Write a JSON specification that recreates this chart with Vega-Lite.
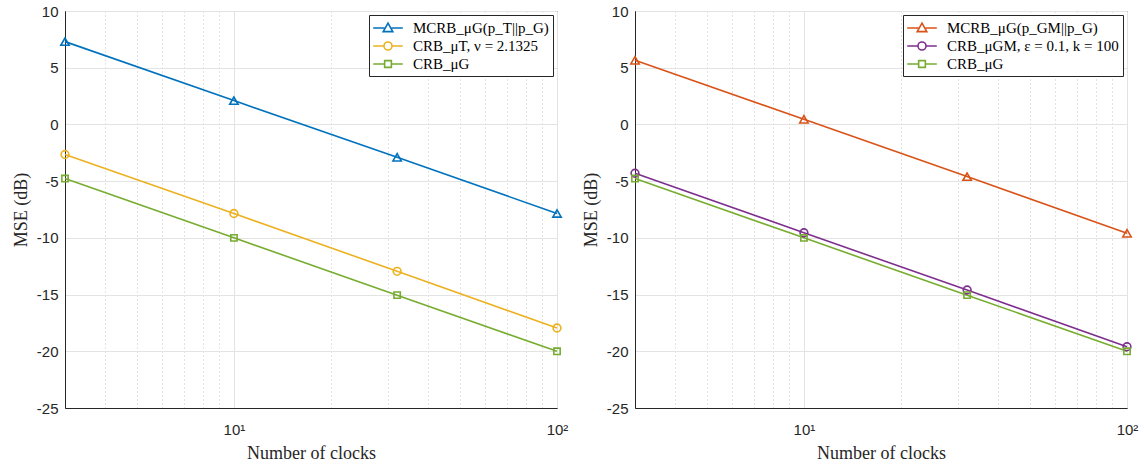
{
  "$schema": "https://vega.github.io/schema/vega-lite/v6.json",
  "padding": {"left": 11, "top": 3, "right": 14, "bottom": 0},
  "background": "white",
  "bounds": "flush",
  "spacing": 78,
  "resolve": {"scale": {"color": "independent", "x": "independent", "y": "independent"}, "legend": {"color": "independent"}},
  "config": {
    "view": {"stroke": "#262626", "strokeWidth": 1},
    "axis": {
      "labelFont": "Liberation Sans", "labelFontSize": 15, "labelColor": "#262626",
      "titleFont": "Liberation Serif", "titleFontSize": 18, "titleFontWeight": "normal", "titleColor": "#262626",
      "domainColor": "#262626", "tickColor": "#262626", "gridColor": "#e3e3e3", "gridWidth": 1
    },
    "legend": {
      "labelFont": "Liberation Serif", "labelFontSize": 15, "labelColor": "#000000", "labelLimit": 400,
      "strokeColor": "#262626", "fillColor": "white", "padding": 4, "offset": 4,
      "rowPadding": 1, "symbolSize": 256, "symbolOffset": 6, "labelOffset": 16, "title": null
    }
  },
  "hconcat": [
    {
      "width": 492, "height": 397,
      "data": {"values": [
        {"clocks": 3, "mse": 7.3, "series": "MCRB_μG(p_T||p_G)"},
        {"clocks": 10, "mse": 2.1, "series": "MCRB_μG(p_T||p_G)"},
        {"clocks": 32, "mse": -2.9, "series": "MCRB_μG(p_T||p_G)"},
        {"clocks": 100, "mse": -7.85, "series": "MCRB_μG(p_T||p_G)"},
        {"clocks": 3, "mse": -2.65, "series": "CRB_μT, ν = 2.1325"},
        {"clocks": 10, "mse": -7.85, "series": "CRB_μT, ν = 2.1325"},
        {"clocks": 32, "mse": -12.95, "series": "CRB_μT, ν = 2.1325"},
        {"clocks": 100, "mse": -17.95, "series": "CRB_μT, ν = 2.1325"},
        {"clocks": 3, "mse": -4.77, "series": "CRB_μG"},
        {"clocks": 10, "mse": -10, "series": "CRB_μG"},
        {"clocks": 32, "mse": -15.05, "series": "CRB_μG"},
        {"clocks": 100, "mse": -20, "series": "CRB_μG"}
      ]},
      "encoding": {
        "x": {"field": "clocks", "type": "quantitative",
          "scale": {"type": "log", "domain": [3, 100], "nice": false},
          "axis": {"values": [4, 5, 6, 7, 8, 9, 10, 20, 30, 40, 50, 60, 70, 80, 90, 100],
            "labelExpr": "datum.value == 10 ? '10¹' : (datum.value == 100 ? '10²' : '')",
            "title": "Number of clocks", "ticks": false, "labelPadding": 14, "titlePadding": 7, "labelFlush": false,
            "gridDash": {"condition": {"test": "datum.value == 10 || datum.value == 100", "value": []}, "value": [1, 3]},
            "gridColor": {"condition": {"test": "datum.value == 10 || datum.value == 100", "value": "#e3e3e3"}, "value": "#c4c4c4"}}},
        "y": {"field": "mse", "type": "quantitative",
          "scale": {"domain": [-25, 10], "nice": false},
          "axis": {"values": [-25, -20, -15, -10, -5, 0, 5, 10], "labelExpr": "'' + datum.value", "title": "MSE (dB)",
            "ticks": false, "labelPadding": 7, "titlePadding": 6}},
        "color": {"field": "series", "type": "nominal",
          "scale": {"domain": ["MCRB_μG(p_T||p_G)", "CRB_μT, ν = 2.1325", "CRB_μG"], "range": ["#0072BD", "#EDB120", "#77AC30"]},
          "legend": {"orient": "top-right",
            "encode": {"symbols": {"update": {
              "shape": {"signal": "indexof(datum.value, 'MCRB') == 0 ? 'M-1.85,0H-0.45M0.45,0H1.85M0,-0.6L0.6,0.45H-0.6Z' : (datum.value == 'CRB_μG' ? 'M-1.85,0H-0.42M0.42,0H1.85M-0.42,-0.42H0.42V0.42H-0.42Z' : 'M-1.85,0H-0.5M0.5,0H1.85M-0.5,0A0.5,0.5 0 1,0 0.5,0A0.5,0.5 0 1,0 -0.5,0Z')"},
              "strokeWidth": {"value": 1.6}, "fill": {"value": "transparent"}, "strokeDash": {"value": []}
            }}}}}
      },
      "layer": [
        {"mark": {"type": "line", "strokeWidth": 1.6}},
        {"transform": [{"filter": "indexof(datum.series, 'MCRB') == 0"}],
         "mark": {"type": "point", "shape": "triangle-up", "filled": false, "strokeWidth": 1.6, "size": 70, "opacity": 1}},
        {"transform": [{"filter": "indexof(datum.series, 'CRB_μT') == 0"}],
         "mark": {"type": "point", "shape": "circle", "filled": false, "strokeWidth": 1.6, "size": 60, "opacity": 1}},
        {"transform": [{"filter": "datum.series == 'CRB_μG'"}],
         "mark": {"type": "point", "shape": "square", "filled": false, "strokeWidth": 1.6, "size": 40, "opacity": 1}}
      ]
    },
    {
      "width": 492, "height": 397,
      "data": {"values": [
        {"clocks": 3, "mse": 5.65, "series": "MCRB_μG(p_GM||p_G)"},
        {"clocks": 10, "mse": 0.45, "series": "MCRB_μG(p_GM||p_G)"},
        {"clocks": 32, "mse": -4.6, "series": "MCRB_μG(p_GM||p_G)"},
        {"clocks": 100, "mse": -9.6, "series": "MCRB_μG(p_GM||p_G)"},
        {"clocks": 3, "mse": -4.3, "series": "CRB_μGM, ε = 0.1, k = 100"},
        {"clocks": 10, "mse": -9.55, "series": "CRB_μGM, ε = 0.1, k = 100"},
        {"clocks": 32, "mse": -14.6, "series": "CRB_μGM, ε = 0.1, k = 100"},
        {"clocks": 100, "mse": -19.6, "series": "CRB_μGM, ε = 0.1, k = 100"},
        {"clocks": 3, "mse": -4.77, "series": "CRB_μG"},
        {"clocks": 10, "mse": -10, "series": "CRB_μG"},
        {"clocks": 32, "mse": -15.05, "series": "CRB_μG"},
        {"clocks": 100, "mse": -20, "series": "CRB_μG"}
      ]},
      "encoding": {
        "x": {"field": "clocks", "type": "quantitative",
          "scale": {"type": "log", "domain": [3, 100], "nice": false},
          "axis": {"values": [4, 5, 6, 7, 8, 9, 10, 20, 30, 40, 50, 60, 70, 80, 90, 100],
            "labelExpr": "datum.value == 10 ? '10¹' : (datum.value == 100 ? '10²' : '')",
            "title": "Number of clocks", "ticks": false, "labelPadding": 14, "titlePadding": 7, "labelFlush": false,
            "gridDash": {"condition": {"test": "datum.value == 10 || datum.value == 100", "value": []}, "value": [1, 3]},
            "gridColor": {"condition": {"test": "datum.value == 10 || datum.value == 100", "value": "#e3e3e3"}, "value": "#c4c4c4"}}},
        "y": {"field": "mse", "type": "quantitative",
          "scale": {"domain": [-25, 10], "nice": false},
          "axis": {"values": [-25, -20, -15, -10, -5, 0, 5, 10], "labelExpr": "'' + datum.value", "title": "MSE (dB)",
            "ticks": false, "labelPadding": 7, "titlePadding": 6}},
        "color": {"field": "series", "type": "nominal",
          "scale": {"domain": ["MCRB_μG(p_GM||p_G)", "CRB_μGM, ε = 0.1, k = 100", "CRB_μG"], "range": ["#D95319", "#7E2F8E", "#77AC30"]},
          "legend": {"orient": "top-right",
            "encode": {"symbols": {"update": {
              "shape": {"signal": "indexof(datum.value, 'MCRB') == 0 ? 'M-1.85,0H-0.45M0.45,0H1.85M0,-0.6L0.6,0.45H-0.6Z' : (datum.value == 'CRB_μG' ? 'M-1.85,0H-0.42M0.42,0H1.85M-0.42,-0.42H0.42V0.42H-0.42Z' : 'M-1.85,0H-0.5M0.5,0H1.85M-0.5,0A0.5,0.5 0 1,0 0.5,0A0.5,0.5 0 1,0 -0.5,0Z')"},
              "strokeWidth": {"value": 1.6}, "fill": {"value": "transparent"}, "strokeDash": {"value": []}
            }}}}}
      },
      "layer": [
        {"mark": {"type": "line", "strokeWidth": 1.6}},
        {"transform": [{"filter": "indexof(datum.series, 'MCRB') == 0"}],
         "mark": {"type": "point", "shape": "triangle-up", "filled": false, "strokeWidth": 1.6, "size": 70, "opacity": 1}},
        {"transform": [{"filter": "indexof(datum.series, 'CRB_μGM') == 0"}],
         "mark": {"type": "point", "shape": "circle", "filled": false, "strokeWidth": 1.6, "size": 60, "opacity": 1}},
        {"transform": [{"filter": "datum.series == 'CRB_μG'"}],
         "mark": {"type": "point", "shape": "square", "filled": false, "strokeWidth": 1.6, "size": 40, "opacity": 1}}
      ]
    }
  ]
}
